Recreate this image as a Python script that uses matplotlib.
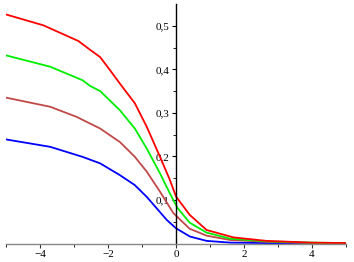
import matplotlib
matplotlib.use("Agg")
import matplotlib.pyplot as plt

plt.rcParams['font.family'] = ['Liberation Serif', 'DejaVu Serif']

# curve samples
xr = [-5.0, -3.9, -2.87, -2.53, -2.23, -1.94, -1.6, -1.21, -0.86, -0.47, -0.18, 0.0, 0.4, 0.9, 1.69, 2.66, 4.0, 5.0]
red = [0.526, 0.501, 0.465, 0.445, 0.428, 0.398, 0.362, 0.322, 0.268, 0.199, 0.146, 0.108, 0.066, 0.031, 0.014, 0.006, 0.002, 0.001]

xg = [-5.0, -3.7, -2.75, -2.53, -2.23, -1.65, -1.21, -0.86, -0.47, -0.18, 0.05, 0.4, 0.9, 1.6, 2.66, 4.0, 5.0]
green = [0.432, 0.406, 0.375, 0.362, 0.350, 0.306, 0.264, 0.218, 0.161, 0.115, 0.081, 0.048, 0.025, 0.011, 0.005, 0.002, 0.001]

xb = [-5.0, -3.7, -2.93, -2.23, -1.65, -1.21, -0.86, -0.47, -0.08, 0.4, 0.9, 1.6, 2.66, 4.0, 5.0]
brown = [0.335, 0.314, 0.291, 0.264, 0.233, 0.199, 0.165, 0.119, 0.070, 0.034, 0.018, 0.008, 0.004, 0.001, 0.0005]

xl = [-5.0, -3.7, -2.75, -2.23, -1.65, -1.21, -0.86, -0.47, -0.27, 0.0, 0.41, 0.9, 1.6, 2.66, 4.0, 5.0]
blue = [0.239, 0.222, 0.199, 0.184, 0.157, 0.134, 0.107, 0.072, 0.054, 0.035, 0.016, 0.006, 0.002, 0.001, 0.0005, 0.0002]

xticks = [-4, -2, 0, 2, 4]
xlabels = ["\u22124", "\u22122", "0", "2", "4"]
yticks = [0.1, 0.2, 0.3, 0.4, 0.5]
ylabels = ["0,1", "0,2", "0,3", "0,4", "0,5"]

fig = plt.figure(figsize=(3.54, 2.62), dpi=100)
ax = fig.add_axes([6 / 354, 18.5 / 262, 340 / 354, 239.5 / 262])

ax.plot(xl, blue, color='#0000ff', lw=1.3)
ax.plot(xb, brown, color='#c04848', lw=1.3)
ax.plot(xg, green, color='#00ee00', lw=1.3)
ax.plot(xr, red, color='#ff0000', lw=1.3)

ax.set_xlim(-5, 5)
ax.set_ylim(0, 0.55)

ax.spines['top'].set_visible(False)
ax.spines['right'].set_visible(False)
ax.spines['left'].set_position(('data', 0))
ax.spines['bottom'].set_position(('data', 0))
ax.spines['left'].set_linewidth(1.0)
ax.spines['bottom'].set_color('#888888')
ax.spines['bottom'].set_linewidth(1.0)

ax.set_xticks(xticks)
ax.set_xticklabels(xlabels)
ax.set_xticks([-5, -3, -1, 1, 3, 5], minor=True)
ax.set_yticks(yticks)
ax.set_yticklabels(ylabels)
ax.set_yticks([0.05, 0.15, 0.25, 0.35, 0.45], minor=True)
ax.tick_params(axis='both', labelsize=8, width=0.8, length=3, pad=2)
ax.tick_params(axis='both', which='minor', width=0.6, length=2)
ax.tick_params(axis='x', colors='#333333', labelcolor='black')
ax.patch.set_alpha(0)

fig.savefig("out.png", dpi=100)
